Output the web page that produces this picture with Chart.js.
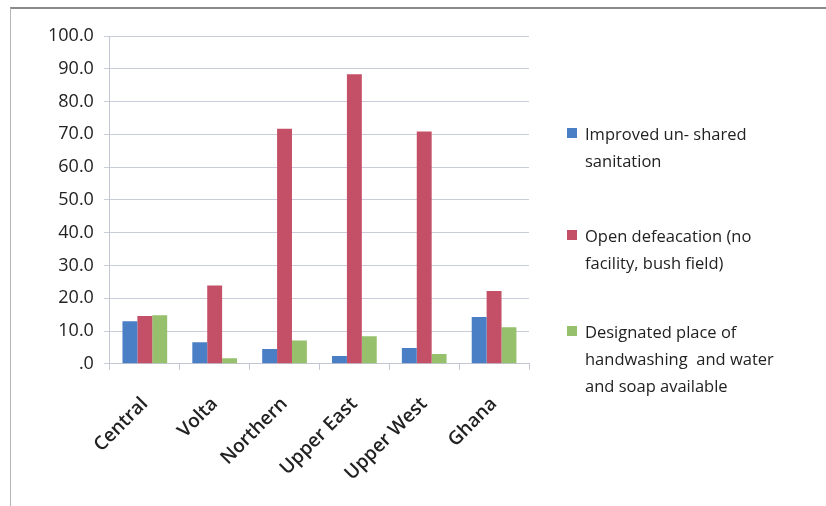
<!DOCTYPE html>
<html>
<head>
<meta charset="utf-8">
<script src="https://cdn.jsdelivr.net/npm/chart.js@4.4.1/dist/chart.umd.min.js"></script>
<style>
  html, body { margin: 0; padding: 0; background: #fff; overflow: hidden; }
  #frame {
    position: absolute; left: 10px; top: 7px; width: 830px; height: 510px;
    border-top: 2px solid #8a8a8a; border-left: 1px solid #b5b5b5;
  }
  #wrap { position: absolute; left: 0; top: 0; width: 826px; height: 506px; overflow: hidden; }
  #legend {
    position: absolute; left: 567px; top: 120px; width: 250px;
    font-family: "Open Sans", "Lato", sans-serif; font-size: 16.5px; color: #222;
    line-height: 27px;
  }
  .item { position: relative; padding-left: 18px; }
  .swatch { position: absolute; left: 0; top: 8px; width: 10px; height: 10px; }
</style>
</head>
<body>
<div id="frame"></div>
<div id="wrap"><canvas id="c" width="826" height="512"></canvas></div>
<div id="legend"></div>
<script>
// Sanitation and hygiene indicators by region (%)
const regions = ["Central", "Volta", "Northern", "Upper East", "Upper West", "Ghana"];
const improvedUnshared = [13.0, 6.6, 4.5, 2.4, 4.8, 14.3];
const openDefecation = [14.6, 23.9, 71.7, 88.3, 70.9, 22.2];
const handwashingPlace = [14.8, 1.7, 7.1, 8.4, 3.0, 11.2];
const seriesNames = [
  ["Improved un- shared", "sanitation"],
  ["Open defeacation (no", "facility, bush field)"],
  ["Designated place of", "handwashing  and water", "and soap available"]
];
const seriesColors = ["#4a7fc6", "#c45068", "#96c06c"];

const chart = new Chart(document.getElementById("c"), {
  type: "bar",
  data: {
    labels: regions,
    datasets: [improvedUnshared, openDefecation, handwashingPlace].map((d, i) => ({
      label: seriesNames[i].join(" "),
      data: d,
      backgroundColor: seriesColors[i],
      borderWidth: 0,
      categoryPercentage: 0.64,
      barPercentage: 1.0
    }))
  },
  options: {
    responsive: false,
    animation: false,
    layout: { padding: { left: 38, top: 36, right: 297, bottom: 4 } },
    plugins: { legend: { display: false }, tooltip: { enabled: false } },
    scales: {
      x: {
        grid: { display: true, drawOnChartArea: false, offset: true, tickLength: 6, color: "#c3c7d3" },
        border: { color: "#c3c7d3" },
        ticks: {
          minRotation: 45, maxRotation: 45, color: "#222", padding: 23,
          font: { family: "'Open Sans', sans-serif", size: 19, weight: "600" }
        }
      },
      y: {
        min: 0, max: 100,
        grid: { color: "#c9cdd9", tickLength: 6 },
        border: { color: "#c3c7d3" },
        ticks: {
          stepSize: 10, color: "#222", padding: 10,
          font: { family: "'Open Sans', sans-serif", size: 18 },
          callback: v => v === 0 ? ".0" : v.toFixed(1)
        }
      }
    }
  }
});

// Legend entries built from the chart's datasets
const legend = document.getElementById("legend");
chart.data.datasets.forEach((ds, i) => {
  const item = document.createElement("div");
  item.className = "item";
  item.style.marginBottom = i === 0 ? "48px" : "42px";
  const sw = document.createElement("span");
  sw.className = "swatch";
  sw.style.background = ds.backgroundColor;
  item.appendChild(sw);
  seriesNames[i].forEach(line => {
    const d = document.createElement("div");
    d.textContent = line;
    d.style.whiteSpace = "pre";
    item.appendChild(d);
  });
  legend.appendChild(item);
});
</script>
</body>
</html>
